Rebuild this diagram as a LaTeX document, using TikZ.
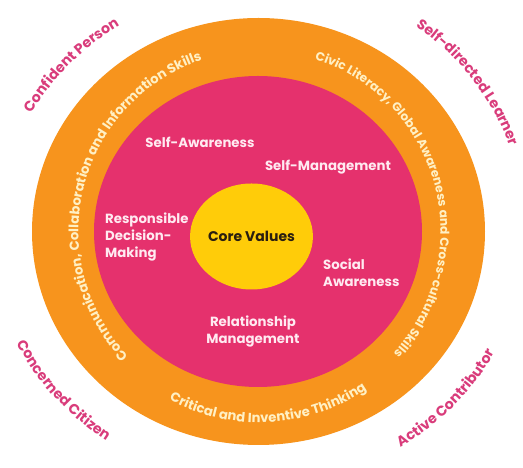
\documentclass[tikz,border=0pt]{standalone}
\usepackage{fontspec}
\setmainfont{Poppins}
\usetikzlibrary{decorations.text,shapes.geometric,calc}
\definecolor{ringorange}{HTML}{F7941D}
\definecolor{ringpink}{HTML}{E5316D}
\definecolor{coreyellow}{HTML}{FFCC09}
\definecolor{labelpink}{HTML}{D93C7B}
\definecolor{ringtxt}{HTML}{FFF0C4}
\definecolor{innertxt}{HTML}{FFEAF1}
\definecolor{coretxt}{HTML}{2A1E10}
\newcommand\ringfontA{\color{ringtxt}\bfseries\fontsize{13.2}{14}\selectfont}
\newcommand\ringfontB{\color{ringtxt}\bfseries\fontsize{12.2}{14}\selectfont}
\newcommand\lblfont{\color{labelpink}\bfseries\fontsize{14.2}{15}\selectfont}
\begin{document}
\begin{tikzpicture}[x=1pt,y=1pt,
  innerlbl/.style={text=innertxt, font=\bfseries\fontsize{13.3}{17}\selectfont, inner sep=0pt},
  ringtext/.style={decorate, decoration={text along path, text align=center, text={|\ringfontA|#1}}},
  ringtextb/.style={decorate, decoration={text along path, text align=center, text={|\ringfontB|#1}}},
  outerlbl/.style={decorate, decoration={text along path, text align=center, text={|\lblfont|#1}}}]
\fill[white] (0,0) rectangle (523,468);
\useasboundingbox (0,0) rectangle (523,468);
\coordinate (C) at (258.5,236.5);
\coordinate (T) at (259.5,236.5);
\fill[ringorange] (C) ellipse [x radius=226.5pt, y radius=213.5pt];
\fill[ringpink] (258,236.5) ellipse [x radius=164pt, y radius=155.5pt];
\node[ellipse, fill=coreyellow, minimum width=114pt, minimum height=106pt, inner sep=0pt,
  text=coretxt, font=\bfseries\fontsize{14}{16}\selectfont] (core) at (251.5,231.5) {Core Values};
% inner labels
\node[innerlbl] (sa) at (200,326) {Self-Awareness};
\node[innerlbl] (sm) at (328,301) {Self-Management};
\node[innerlbl, anchor=west, align=left] (rdm) at (105,231) {Responsible\\Decision-\\Making};
\node[innerlbl, anchor=west, align=left] (soc) at (323,195.5) {Social\\Awareness};
\node[innerlbl, align=center] (rm) at (253,136.5) {Relationship\\Management};
% ring texts
\path[ringtext={Communication, Collaboration and Information Skills}]
  ($(T)+(240:181pt)$) arc[start angle=240, end angle=92, radius=181pt];
\path[ringtextb={Civic Literacy, Global Awareness and Cross-cultural Skills}]
  ($(T)+(89:181pt)$) arc[start angle=89, end angle=-59, radius=181pt];
\path[ringtext={Critical and Inventive Thinking}]
  ($(T)+(225:191pt)$) arc[start angle=225, end angle=321, radius=191pt];
% outer labels
\path[outerlbl={Confident Person}]
  ($(C)+(165:259pt and 244pt)$) arc[start angle=165, end angle=109, x radius=259pt, y radius=244pt];
\path[outerlbl={Self-directed Learner}]
  ($(C)+(69:267pt and 254pt)$) arc[start angle=69, end angle=4, x radius=267pt, y radius=254pt];
\path[outerlbl={Concerned Citizen}]
  ($(C)+(190:269pt and 254pt)$) arc[start angle=190, end angle=251, x radius=269pt, y radius=254pt];
\path[outerlbl={Active Contributor}]
  ($(C)+(286:269pt and 254pt)$) arc[start angle=286, end angle=348, x radius=269pt, y radius=254pt];
\end{tikzpicture}
\end{document}
